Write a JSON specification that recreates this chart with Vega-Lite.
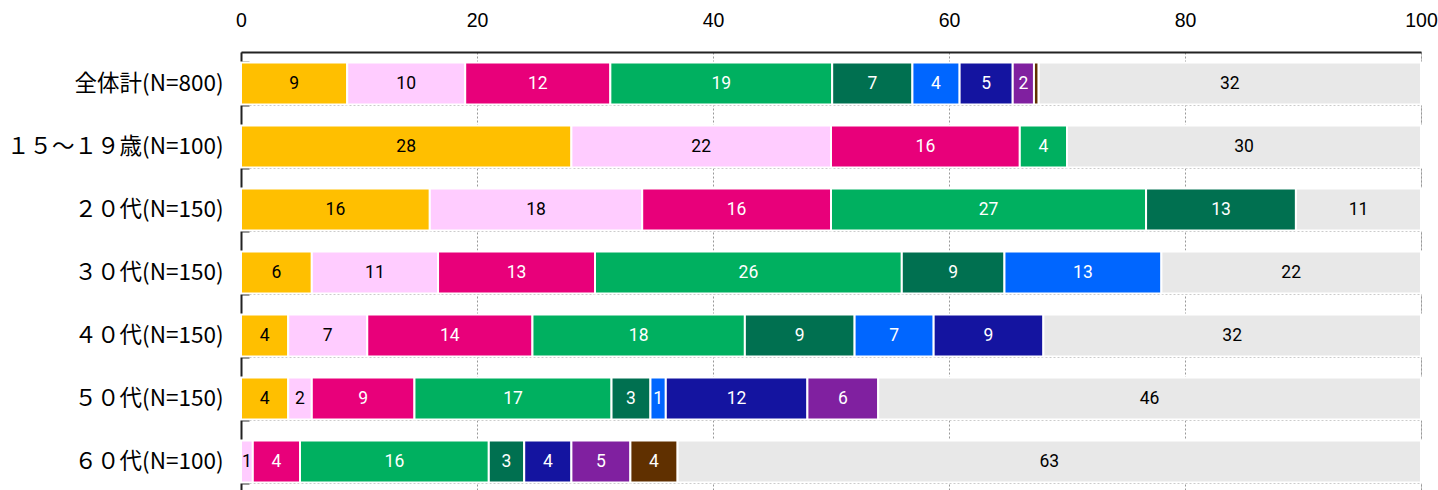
{
  "$schema": "https://vega.github.io/schema/vega-lite/v6.json",
  "autosize": "none",
  "width": 1180,
  "height": 441,
  "padding": {"left": 241, "top": 52, "right": 17, "bottom": 0},
  "background": "white",
  "config": {"view": {"stroke": "#c8c8c8", "strokeWidth": 1}},
  "data": {"values": [
    {"row": "全体計(N=800)", "c": "A", "v": 9.0},
    {"row": "全体計(N=800)", "c": "B", "v": 10.0},
    {"row": "全体計(N=800)", "c": "C", "v": 12.3},
    {"row": "全体計(N=800)", "c": "D", "v": 18.8},
    {"row": "全体計(N=800)", "c": "E", "v": 6.8},
    {"row": "全体計(N=800)", "c": "F", "v": 4.0},
    {"row": "全体計(N=800)", "c": "G", "v": 4.5},
    {"row": "全体計(N=800)", "c": "H", "v": 1.8},
    {"row": "全体計(N=800)", "c": "I", "v": 0.4},
    {"row": "全体計(N=800)", "c": "J", "v": 32.4},
    {"row": "１５～１９歳(N=100)", "c": "A", "v": 28},
    {"row": "１５～１９歳(N=100)", "c": "B", "v": 22},
    {"row": "１５～１９歳(N=100)", "c": "C", "v": 16},
    {"row": "１５～１９歳(N=100)", "c": "D", "v": 4},
    {"row": "１５～１９歳(N=100)", "c": "J", "v": 30},
    {"row": "２０代(N=150)", "c": "A", "v": 16.0},
    {"row": "２０代(N=150)", "c": "B", "v": 18.0},
    {"row": "２０代(N=150)", "c": "C", "v": 16.0},
    {"row": "２０代(N=150)", "c": "D", "v": 26.7},
    {"row": "２０代(N=150)", "c": "E", "v": 12.7},
    {"row": "２０代(N=150)", "c": "J", "v": 10.6},
    {"row": "３０代(N=150)", "c": "A", "v": 6.0},
    {"row": "３０代(N=150)", "c": "B", "v": 10.7},
    {"row": "３０代(N=150)", "c": "C", "v": 13.3},
    {"row": "３０代(N=150)", "c": "D", "v": 26.0},
    {"row": "３０代(N=150)", "c": "E", "v": 8.7},
    {"row": "３０代(N=150)", "c": "F", "v": 13.3},
    {"row": "３０代(N=150)", "c": "J", "v": 22.0},
    {"row": "４０代(N=150)", "c": "A", "v": 4.0},
    {"row": "４０代(N=150)", "c": "B", "v": 6.7},
    {"row": "４０代(N=150)", "c": "C", "v": 14.0},
    {"row": "４０代(N=150)", "c": "D", "v": 18.0},
    {"row": "４０代(N=150)", "c": "E", "v": 9.3},
    {"row": "４０代(N=150)", "c": "F", "v": 6.7},
    {"row": "４０代(N=150)", "c": "G", "v": 9.3},
    {"row": "４０代(N=150)", "c": "J", "v": 32.0},
    {"row": "５０代(N=150)", "c": "A", "v": 4.0},
    {"row": "５０代(N=150)", "c": "B", "v": 2.0},
    {"row": "５０代(N=150)", "c": "C", "v": 8.7},
    {"row": "５０代(N=150)", "c": "D", "v": 16.7},
    {"row": "５０代(N=150)", "c": "E", "v": 3.3},
    {"row": "５０代(N=150)", "c": "F", "v": 1.3},
    {"row": "５０代(N=150)", "c": "G", "v": 12.0},
    {"row": "５０代(N=150)", "c": "H", "v": 6.0},
    {"row": "５０代(N=150)", "c": "J", "v": 46.0},
    {"row": "６０代(N=100)", "c": "B", "v": 1},
    {"row": "６０代(N=100)", "c": "C", "v": 4},
    {"row": "６０代(N=100)", "c": "D", "v": 16},
    {"row": "６０代(N=100)", "c": "E", "v": 3},
    {"row": "６０代(N=100)", "c": "G", "v": 4},
    {"row": "６０代(N=100)", "c": "H", "v": 5},
    {"row": "６０代(N=100)", "c": "I", "v": 4},
    {"row": "６０代(N=100)", "c": "J", "v": 63}
  ]},
  "transform": [
    {"stack": "v", "groupby": ["row"], "sort": [{"field": "c", "order": "ascending"}], "as": ["x0", "x1"]}
  ],
  "encoding": {
    "y": {
      "field": "row", "type": "nominal", "sort": null,
      "scale": {"paddingInner": 0.333, "paddingOuter": 0.1665},
      "axis": {
        "title": null, "labelFontSize": 22.5, "labelFont": "Noto Sans CJK JP", "labelColor": "#000",
        "labelLimit": 400, "labelPadding": 26, "tickBand": "extent", "tickSize": -8, "tickColor": "#333", "tickWidth": 2,
        "domainColor": "#222", "domainWidth": 2,
        "grid": true, "gridColor": "#999", "gridDash": [2, 2], "gridWidth": 1
      }
    }
  },
  "layer": [
    {
      "mark": {"type": "bar", "stroke": "white", "strokeWidth": 2},
      "encoding": {
        "x": {
          "field": "x0", "type": "quantitative",
          "scale": {"domain": [0, 100], "nice": false},
          "axis": {
            "orient": "top", "title": null, "values": [0, 20, 40, 60, 80, 100],
            "labelFontSize": 19.5, "labelFont": "Liberation Sans", "labelColor": "#000",
            "labelPadding": 22, "labelFlush": false, "ticks": false, "domainColor": "#222", "domainWidth": 2,
            "grid": true, "gridColor": "#999", "gridDash": [2, 2], "gridWidth": 1
          }
        },
        "x2": {"field": "x1"},
        "color": {
          "field": "c", "type": "nominal", "legend": null,
          "scale": {
            "domain": ["A", "B", "C", "D", "E", "F", "G", "H", "I", "J"],
            "range": ["#FFBF00", "#FFCCFF", "#E8007A", "#00B060", "#007050", "#0066FF", "#1414A0", "#8020A0", "#603000", "#E8E8E8"]
          }
        }
      }
    },
    {
      "transform": [
        {"filter": "datum.v >= 0.8"},
        {"fold": ["x0", "x1"], "as": ["edge", "pos"]}
      ],
      "mark": {"type": "text", "fontSize": 17.5, "font": "Roboto", "align": "center", "baseline": "middle"},
      "encoding": {
        "x": {"field": "pos", "aggregate": "mean", "type": "quantitative"},
        "detail": {"field": "c", "type": "nominal"},
        "text": {"field": "v", "aggregate": "max", "type": "quantitative", "format": ".0f"},
        "color": {
          "condition": {"test": "indexof(['A','B','J'], datum.c) >= 0", "value": "#000"},
          "value": "#fff"
        }
      }
    }
  ]
}
